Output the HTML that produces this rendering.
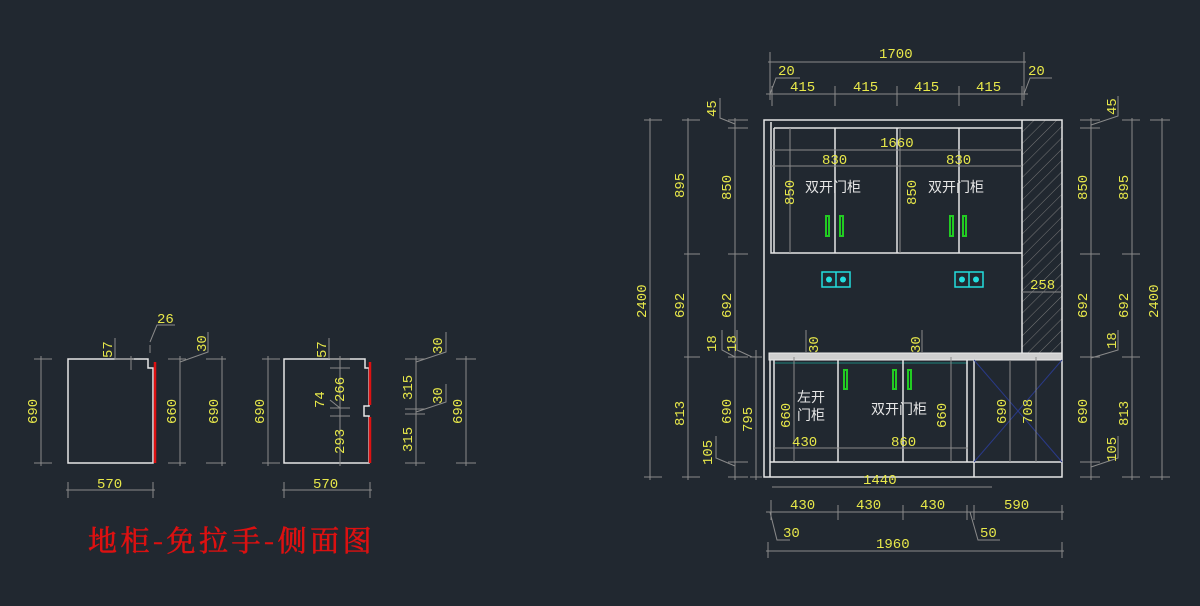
<!DOCTYPE html>
<html><head><meta charset="utf-8"><style>
html,body{margin:0;padding:0;background:#212830;}
svg{display:block}
.d{stroke:#8a8a8a;stroke-width:1;fill:none}
.w{stroke:#e6e6e6;stroke-width:1.5;fill:none}
.t{fill:#e8e84a;font-family:"Liberation Mono","DejaVu Sans Mono",monospace;font-size:14px}
.c{fill:#e6e6e6;font-family:"Liberation Sans","Noto Sans CJK SC",sans-serif;font-size:14px}
</style></head><body>
<svg width="1200" height="606" viewBox="0 0 1200 606" xmlns="http://www.w3.org/2000/svg">
<defs>
<pattern id="h" width="8" height="8" patternUnits="userSpaceOnUse" patternTransform="rotate(45)"><line x1="0" y1="0" x2="0" y2="8" stroke="#777" stroke-width="1"/></pattern>
</defs>

<rect x="1022" y="120" width="40" height="237" fill="url(#h)"/>
<path class="w" d="M764 120 H1062 V477 H764 Z"/>
<line class="w" x1="1022" y1="120" x2="1022" y2="357"/>
<path class="w" d="M771 122 V253 H1022"/>
<line class="w" x1="774" y1="128" x2="1022" y2="128"/>
<line class="w" x1="774" y1="128" x2="774" y2="253"/>
<line class="w" x1="835" y1="128" x2="835" y2="253"/>
<line class="w" x1="897" y1="128" x2="897" y2="253"/>
<line class="w" x1="959" y1="128" x2="959" y2="253"/>
<line class="d" x1="771" y1="150" x2="1022" y2="150"/>
<line class="d" x1="771" y1="166" x2="1022" y2="166"/>
<line class="d" x1="790" y1="128" x2="790" y2="253"/>
<line class="d" x1="900" y1="128" x2="900" y2="253"/>
<text class="t" x="880" y="147">1660</text>
<text class="t" x="822" y="164">830</text>
<text class="t" x="946" y="164">830</text>
<text class="t" transform="translate(794,205) rotate(-90)">850</text>
<text class="t" transform="translate(916,205) rotate(-90)">850</text>
<text class="c" x="805" y="192">双开门柜</text>
<text class="c" x="928" y="192">双开门柜</text>
<g fill="none" stroke="#22cc22" stroke-width="2">
<rect x="826" y="216" width="3" height="20"/><rect x="840" y="216" width="3" height="20"/>
<rect x="950" y="216" width="3" height="20"/><rect x="963" y="216" width="3" height="20"/>
</g>
<g stroke="#22dddd" stroke-width="1.5" fill="none">
<rect x="822" y="272" width="28" height="15"/><line x1="836" y1="272" x2="836" y2="287"/>
<rect x="955" y="272" width="28" height="15"/><line x1="969" y1="272" x2="969" y2="287"/>
</g>
<g fill="#22dddd"><circle cx="829" cy="279.5" r="3"/><circle cx="843" cy="279.5" r="3"/><circle cx="962" cy="279.5" r="3"/><circle cx="976" cy="279.5" r="3"/></g>
<line class="d" x1="1022" y1="292" x2="1062" y2="292"/>
<text class="t" x="1030" y="289">258</text>

<rect x="769" y="353" width="293" height="7" fill="#cfcfcf" stroke="#eee" stroke-width="1"/>
<line x1="775" y1="363" x2="968" y2="363" stroke="#1f5555" stroke-width="2"/>
<line class="w" x1="770" y1="360" x2="770" y2="477"/>
<line class="w" x1="774" y1="360" x2="774" y2="462"/>
<line class="w" x1="838" y1="360" x2="838" y2="462"/>
<line class="w" x1="903" y1="360" x2="903" y2="462"/>
<line class="w" x1="967" y1="360" x2="967" y2="462"/>
<line class="w" x1="974" y1="360" x2="974" y2="477"/>
<line class="w" x1="770" y1="462" x2="1062" y2="462"/>
<line stroke="#2a3a88" stroke-width="1" x1="974" y1="360" x2="1062" y2="462"/>
<line stroke="#2a3a88" stroke-width="1" x1="1062" y1="360" x2="974" y2="462"/>
<line class="d" x1="794" y1="357" x2="794" y2="462"/>
<line class="d" x1="951" y1="357" x2="951" y2="462"/>
<line class="d" x1="1010" y1="360" x2="1010" y2="462"/>
<line class="d" x1="1036" y1="357" x2="1036" y2="462"/>
<line class="d" x1="774" y1="448" x2="968" y2="448"/>
<text class="t" x="792" y="446">430</text>
<text class="t" x="891" y="446">860</text>
<text class="t" transform="translate(790,428) rotate(-90)">660</text>
<text class="t" transform="translate(946,428) rotate(-90)">660</text>
<text class="t" transform="translate(1006,424) rotate(-90)">690</text>
<text class="t" transform="translate(1032,424) rotate(-90)">708</text>
<text class="c" x="797" y="402">左开</text>
<text class="c" x="797" y="420">门柜</text>
<text class="c" x="871" y="414">双开门柜</text>
<g fill="none" stroke="#22cc22" stroke-width="2">
<rect x="844" y="370" width="3" height="19"/><rect x="893" y="370" width="3" height="19"/><rect x="908" y="370" width="3" height="19"/>
</g>
<path class="d" d="M806 330 V353 M922 330 V353"/>
<text class="t" transform="translate(818,353) rotate(-90)">30</text>
<text class="t" transform="translate(920,353) rotate(-90)">30</text>

<line class="d" x1="768" y1="62" x2="1026" y2="62"/>
<path class="d" d="M770 52 V100 M1024 52 V100"/>
<text class="t" x="879" y="58">1700</text>
<line class="d" x1="766" y1="94" x2="1028" y2="94"/>
<path class="d" d="M772 86 V106 M835 86 V106 M897 86 V106 M959 86 V106 M1022 86 V106"/>
<text class="t" x="790" y="91">415</text><text class="t" x="853" y="91">415</text><text class="t" x="914" y="91">415</text><text class="t" x="976" y="91">415</text>
<path class="d" d="M770 94 L776 78 H800 M1024 94 L1030 78 H1052"/>
<text class="t" x="778" y="75">20</text><text class="t" x="1028" y="75">20</text>

<line class="d" x1="772" y1="487" x2="992" y2="487"/>
<text class="t" x="863" y="484">1440</text>
<line class="d" x1="766" y1="512" x2="1064" y2="512"/>
<path class="d" d="M771 500 V520 M838 505 V520 M903 505 V520 M967 505 V520 M974 505 V520 M1062 505 V520"/>
<text class="t" x="790" y="509">430</text><text class="t" x="856" y="509">430</text><text class="t" x="920" y="509">430</text><text class="t" x="1004" y="509">590</text>
<path class="d" d="M770 512 L777 540 H790 M970 512 L978 540 H1000"/>
<text class="t" x="783" y="537">30</text><text class="t" x="980" y="537">50</text>
<line class="d" x1="766" y1="551" x2="1064" y2="551"/>
<path class="d" d="M768 542 V558 M1062 542 V558"/>
<text class="t" x="876" y="548">1960</text>

<g class="d">
<line x1="650" y1="118" x2="650" y2="480"/>
<line x1="688" y1="118" x2="688" y2="480"/>
<line x1="735" y1="118" x2="735" y2="480"/>
<line x1="756" y1="350" x2="756" y2="480"/>
<path d="M644 120 H662 M682 120 H700 M684 254 H700 M684 357 H700 M644 477 H662 M682 477 H700 M728 120 H748 M728 128 H748 M728 254 H748 M728 357 H748 M728 462 H748 M728 477 H748 M750 357 H762 M750 477 H762"/>
<path d="M720 98 V118 L735 124 M722 330 V350 L735 357 M737 330 V350 L752 357 M716 436 V458 L735 466"/>
</g>
<text class="t" transform="translate(646,318) rotate(-90)">2400</text>
<text class="t" transform="translate(684,198) rotate(-90)">895</text>
<text class="t" transform="translate(684,318) rotate(-90)">692</text>
<text class="t" transform="translate(684,426) rotate(-90)">813</text>
<text class="t" transform="translate(731,200) rotate(-90)">850</text>
<text class="t" transform="translate(731,318) rotate(-90)">692</text>
<text class="t" transform="translate(731,424) rotate(-90)">690</text>
<text class="t" transform="translate(752,432) rotate(-90)">795</text>
<text class="t" transform="translate(716,117) rotate(-90)">45</text>
<text class="t" transform="translate(716,352) rotate(-90)">18</text>
<text class="t" transform="translate(736,352) rotate(-90)">18</text>
<text class="t" transform="translate(712,465) rotate(-90)">105</text>

<g class="d">
<line x1="1091" y1="118" x2="1091" y2="480"/>
<line x1="1132" y1="118" x2="1132" y2="480"/>
<line x1="1162" y1="118" x2="1162" y2="480"/>
<path d="M1080 120 H1100 M1080 128 H1100 M1080 254 H1100 M1080 357 H1100 M1080 462 H1100 M1080 477 H1100 M1122 120 H1140 M1122 254 H1140 M1122 357 H1140 M1122 477 H1140 M1150 120 H1170 M1150 477 H1170"/>
<path d="M1091 125 L1118 116 V96 M1091 358 L1118 350 V330 M1091 467 L1118 458 V436"/>
</g>
<text class="t" transform="translate(1087,200) rotate(-90)">850</text>
<text class="t" transform="translate(1087,318) rotate(-90)">692</text>
<text class="t" transform="translate(1087,424) rotate(-90)">690</text>
<text class="t" transform="translate(1128,200) rotate(-90)">895</text>
<text class="t" transform="translate(1128,318) rotate(-90)">692</text>
<text class="t" transform="translate(1128,426) rotate(-90)">813</text>
<text class="t" transform="translate(1158,318) rotate(-90)">2400</text>
<text class="t" transform="translate(1116,115) rotate(-90)">45</text>
<text class="t" transform="translate(1116,349) rotate(-90)">18</text>
<text class="t" transform="translate(1116,462) rotate(-90)">105</text>

<path class="w" d="M148 359 H68 V463 H153 V368 H148 Z"/>
<line x1="155" y1="362" x2="155" y2="463" stroke="#dd1111" stroke-width="2.5"/>
<g class="d">
<line x1="41" y1="356" x2="41" y2="466"/>
<path d="M34 359 H52 M34 463 H52 M168 359 H186 M168 463 H186 M206 359 H226 M206 463 H226"/>
<line x1="180" y1="356" x2="180" y2="466"/>
<line x1="222" y1="356" x2="222" y2="466"/>
<line x1="66" y1="490" x2="155" y2="490"/>
<path d="M68 482 V498 M153 482 V498"/>
<path d="M115 338 V359 H134 M131 356 V370 M150 345 V353 M150 342 L157 325 H175 M180 362 L208 352 V332"/>
</g>
<text class="t" transform="translate(37,424) rotate(-90)">690</text>
<text class="t" transform="translate(176,424) rotate(-90)">660</text>
<text class="t" transform="translate(218,424) rotate(-90)">690</text>
<text class="t" transform="translate(112,358) rotate(-90)">57</text>
<text class="t" transform="translate(206,352) rotate(-90)">30</text>
<text class="t" x="157" y="323">26</text>
<text class="t" x="97" y="488">570</text>

<path class="w" d="M284 359 H365 V368 H369 V406 H364 V416 H369 V463 H284 Z"/>
<line x1="370" y1="362" x2="370" y2="405" stroke="#dd1111" stroke-width="2.5"/>
<line x1="370" y1="417" x2="370" y2="463" stroke="#dd1111" stroke-width="2.5"/>
<g class="d">
<line x1="268" y1="356" x2="268" y2="466"/>
<path d="M262 359 H280 M262 463 H280"/>
<line x1="340" y1="356" x2="340" y2="466"/>
<path d="M330 359 H350 M330 368 H350 M330 408 H350 M330 416 H350"/>
<path d="M329 338 V359 M330 400 L340 408"/>
<line x1="416" y1="356" x2="416" y2="466"/>
<path d="M405 359 H425 M405 409 H425 M405 414 H425 M405 463 H425 M416 362 L446 352 V332 M416 412 L446 402 V384"/>
<line x1="466" y1="356" x2="466" y2="466"/>
<path d="M456 359 H476 M456 463 H476"/>
<line x1="282" y1="490" x2="372" y2="490"/>
<path d="M284 482 V498 M370 482 V498"/>
</g>
<text class="t" transform="translate(264,424) rotate(-90)">690</text>
<text class="t" transform="translate(326,358) rotate(-90)">57</text>
<text class="t" transform="translate(344,402) rotate(-90)">266</text>
<text class="t" transform="translate(324,408) rotate(-90)">74</text>
<text class="t" transform="translate(344,454) rotate(-90)">293</text>
<text class="t" transform="translate(412,400) rotate(-90)">315</text>
<text class="t" transform="translate(412,452) rotate(-90)">315</text>
<text class="t" transform="translate(442,354) rotate(-90)">30</text>
<text class="t" transform="translate(442,404) rotate(-90)">30</text>
<text class="t" transform="translate(462,424) rotate(-90)">690</text>
<text class="t" x="313" y="488">570</text>

<text x="88" y="551" fill="#dd1111" stroke="#dd1111" stroke-width="0.6" font-family="'Noto Serif CJK SC','Liberation Serif',serif" font-size="29" letter-spacing="3.5">地柜-免拉手-侧面图</text>
</svg>
</body></html>
